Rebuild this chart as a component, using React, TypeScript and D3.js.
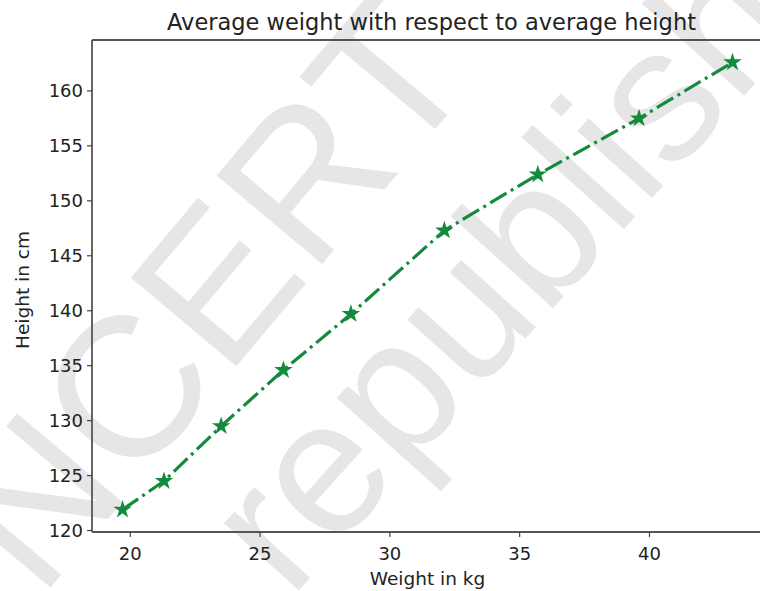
import React from "react";
import * as d3 from "d3";

const weights = [19.7, 21.3, 23.5, 25.9, 28.5, 32.1, 35.7, 39.6, 43.2];
const heights = [121.9, 124.5, 129.5, 134.6, 139.7, 147.3, 152.4, 157.5, 162.6];
const xTicks = [20, 25, 30, 35, 40];
const yTicks = [120, 125, 130, 135, 140, 145, 150, 155, 160];
const titleText = "Average weight with respect to average height";
const xLabel = "Weight in kg";
const yLabel = "Height in cm";
const watermarks = ["NCERT", "republish"];

const W = 760;
const H = 591;
const left = 92;
const right = 763;
const top = 40;
const bottom = 532;
const font = "'DejaVu Sans', sans-serif";
const lineColor = "#138a3e";
const ink = "#222";

export default function App() {
  const xPad = (d3.max(weights)! - d3.min(weights)!) * 0.05;
  const yPad = (d3.max(heights)! - d3.min(heights)!) * 0.05;
  const x = d3.scaleLinear().domain([d3.min(weights)! - xPad, d3.max(weights)! + xPad]).range([left, right]);
  const y = d3.scaleLinear().domain([d3.min(heights)! - yPad, d3.max(heights)! + yPad]).range([bottom, top]);
  const pts = weights.map((w, i) => [w, heights[i]] as [number, number]);
  const line = d3.line<[number, number]>().x((d) => x(d[0])).y((d) => y(d[1]));
  const star = d3.symbol().type(d3.symbolStar).size(105)();

  return (
    <svg width={W} height={H} style={{ position: "absolute", left: 0, top: 0, background: "#fff" }}>
      <rect x={0} y={0} width={W} height={H} fill="#fff" />
      <g fill="#e6e6e6" fontFamily="'Liberation Sans', Arial, sans-serif">
        <text transform="translate(40,600) rotate(-50)" fontSize={200}>{watermarks[0]}</text>
        <text transform="translate(290,600) rotate(-48)" fontSize={190}>{watermarks[1]}</text>
      </g>
      <path d={line(pts)!} fill="none" stroke={lineColor} strokeWidth={3.2} strokeDasharray="19,5,3,5" />
      {pts.map((p, i) => (
        <path key={i} d={star} transform={`translate(${x(p[0])},${y(p[1])})`} fill={lineColor} />
      ))}
      <g stroke="#555" strokeWidth={1.8} fill="none">
        <line x1={left} y1={top} x2={left} y2={bottom} />
        <line x1={left} y1={bottom} x2={right} y2={bottom} />
        <line x1={left} y1={top} x2={right} y2={top} />
        <line x1={right} y1={top} x2={right} y2={bottom} />
      </g>
      {xTicks.map((t) => (
        <g key={t} transform={`translate(${x(t)},${bottom})`}>
          <line y2={5} stroke="#444" strokeWidth={1.2} />
          <text y={28} textAnchor="middle" fontFamily={font} fontSize={18} fill={ink}>{t}</text>
        </g>
      ))}
      {yTicks.map((t) => (
        <g key={t} transform={`translate(${left},${y(t)})`}>
          <line x2={-5} stroke="#444" strokeWidth={1.2} />
          <text x={-9} dy="0.35em" textAnchor="end" fontFamily={font} fontSize={18} fill={ink}>{t}</text>
        </g>
      ))}
      <text x={(left + right) / 2} y={585} textAnchor="middle" fontFamily={font} fontSize={18.5} fill={ink}>{xLabel}</text>
      <text transform={`translate(29,${(top + bottom) / 2 + 4}) rotate(-90)`} textAnchor="middle" fontFamily={font} fontSize={18.5} fill={ink}>{yLabel}</text>
      <text x={(left + right) / 2 + 4} y={30} textAnchor="middle" fontFamily={font} fontSize={22.5} fill={ink}>{titleText}</text>
    </svg>
  );
}
